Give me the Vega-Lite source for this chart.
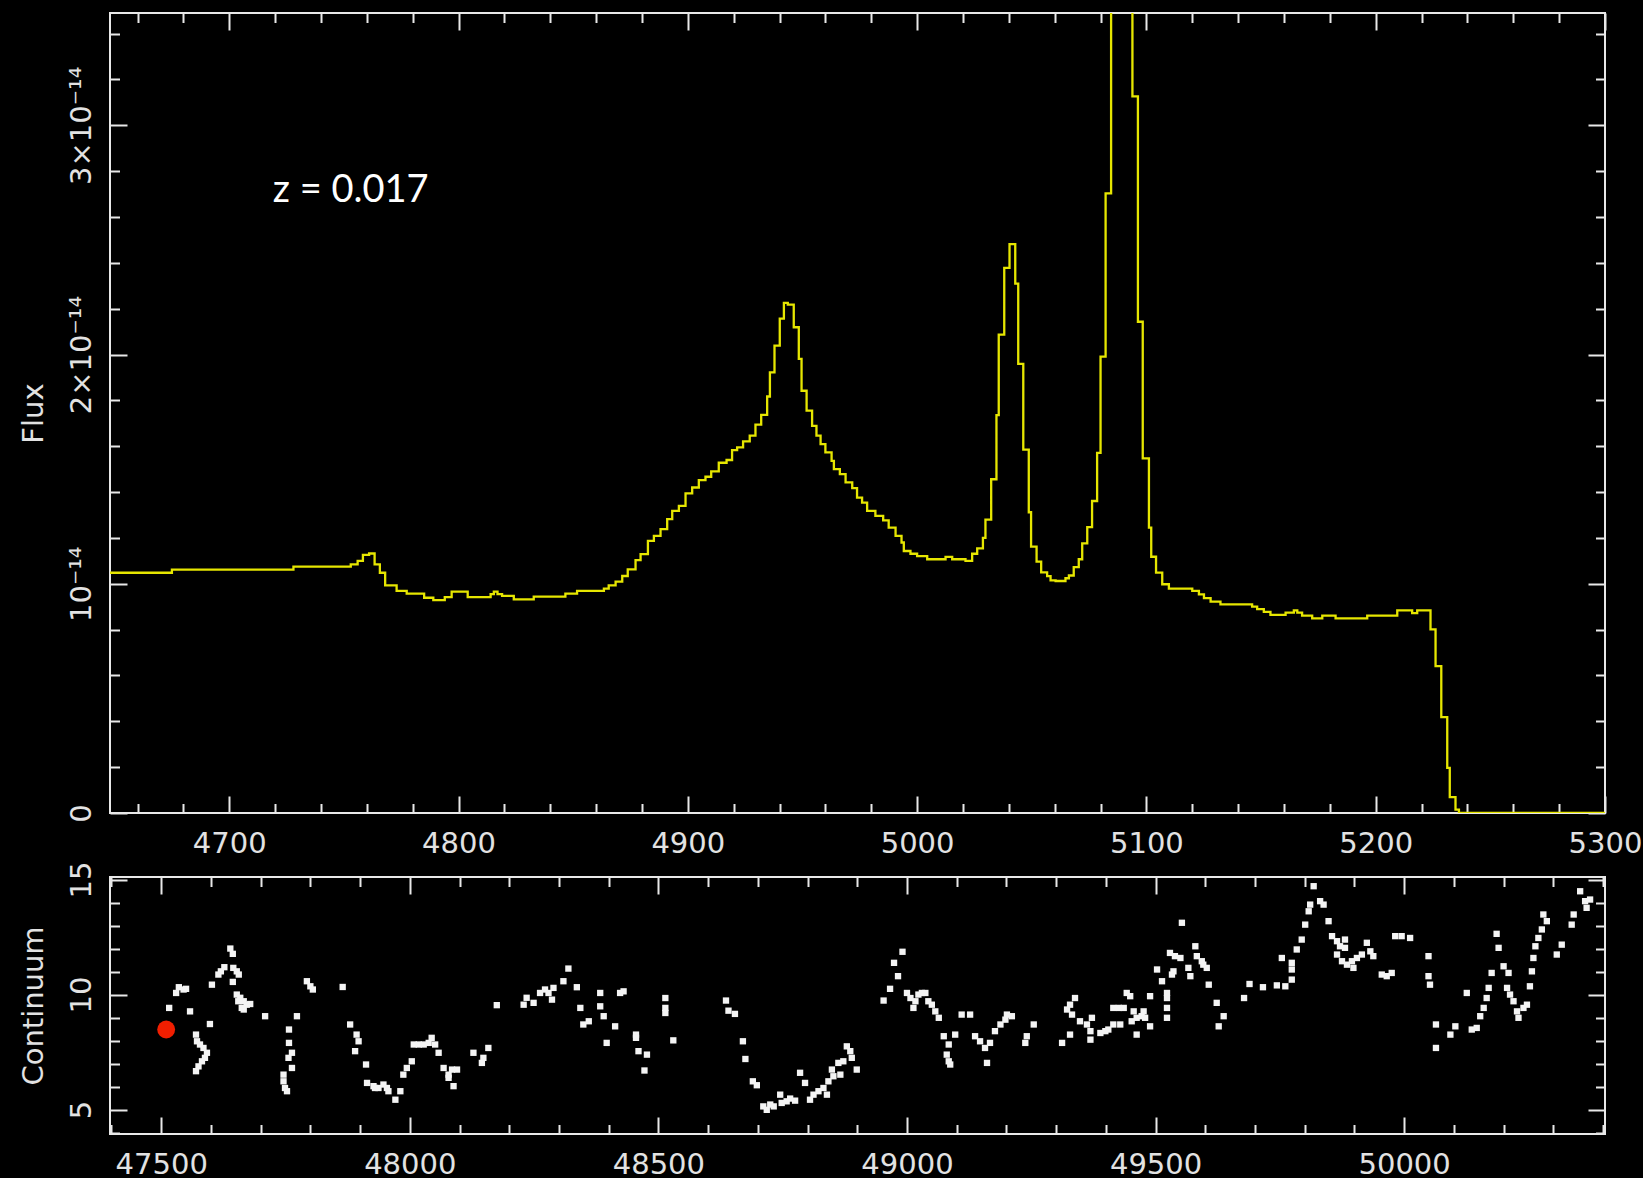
{
  "$schema": "https://vega.github.io/schema/vega-lite/v6.json",
  "background": "black",
  "autosize": {"type": "pad"},
  "padding": {"left": 18, "top": 11, "right": 0, "bottom": 0},
  "spacing": 64,
  "bounds": "flush",
  "datasets": {
    "spectrum": [
      {"wl": 4648, "flux": 1.048e-14}, {"wl": 4675, "flux": 1.062e-14}, {"wl": 4728, "flux": 1.075e-14},
      {"wl": 4753, "flux": 1.085e-14}, {"wl": 4756, "flux": 1.100e-14}, {"wl": 4758.3, "flux": 1.126e-14},
      {"wl": 4761, "flux": 1.132e-14}, {"wl": 4763.4, "flux": 1.085e-14}, {"wl": 4765.7, "flux": 1.048e-14},
      {"wl": 4768, "flux": 0.993e-14}, {"wl": 4773, "flux": 0.969e-14}, {"wl": 4777.4, "flux": 0.957e-14},
      {"wl": 4785, "flux": 0.939e-14}, {"wl": 4789, "flux": 0.929e-14}, {"wl": 4794, "flux": 0.942e-14},
      {"wl": 4797, "flux": 0.966e-14}, {"wl": 4804, "flux": 0.942e-14}, {"wl": 4814, "flux": 0.955e-14},
      {"wl": 4815.4, "flux": 0.966e-14}, {"wl": 4817, "flux": 0.955e-14}, {"wl": 4819, "flux": 0.947e-14},
      {"wl": 4824.1, "flux": 0.932e-14}, {"wl": 4832.8, "flux": 0.944e-14}, {"wl": 4846.6, "flux": 0.957e-14},
      {"wl": 4851.7, "flux": 0.969e-14}, {"wl": 4863.4, "flux": 0.979e-14}, {"wl": 4865.5, "flux": 0.993e-14},
      {"wl": 4868.5, "flux": 1.009e-14}, {"wl": 4871.4, "flux": 1.034e-14}, {"wl": 4873.8, "flux": 1.063e-14},
      {"wl": 4877.2, "flux": 1.103e-14}, {"wl": 4879.4, "flux": 1.129e-14}, {"wl": 4882.6, "flux": 1.187e-14},
      {"wl": 4885.2, "flux": 1.209e-14}, {"wl": 4888.1, "flux": 1.238e-14}, {"wl": 4891.0, "flux": 1.282e-14},
      {"wl": 4893.2, "flux": 1.318e-14}, {"wl": 4896.1, "flux": 1.340e-14}, {"wl": 4899.0, "flux": 1.394e-14},
      {"wl": 4901.9, "flux": 1.420e-14}, {"wl": 4904.8, "flux": 1.452e-14}, {"wl": 4907.7, "flux": 1.467e-14},
      {"wl": 4910.2, "flux": 1.490e-14}, {"wl": 4913.5, "flux": 1.528e-14}, {"wl": 4916.9, "flux": 1.540e-14},
      {"wl": 4919.3, "flux": 1.583e-14}, {"wl": 4921.5, "flux": 1.595e-14}, {"wl": 4924.1, "flux": 1.621e-14},
      {"wl": 4927.0, "flux": 1.646e-14}, {"wl": 4929.5, "flux": 1.694e-14}, {"wl": 4932.0, "flux": 1.737e-14},
      {"wl": 4934.6, "flux": 1.817e-14}, {"wl": 4935.8, "flux": 1.922e-14}, {"wl": 4937.8, "flux": 2.039e-14},
      {"wl": 4940.1, "flux": 2.157e-14}, {"wl": 4941.9, "flux": 2.225e-14}, {"wl": 4943.6, "flux": 2.218e-14},
      {"wl": 4946.2, "flux": 2.119e-14}, {"wl": 4948.4, "flux": 1.981e-14}, {"wl": 4949.6, "flux": 1.842e-14},
      {"wl": 4951.8, "flux": 1.755e-14}, {"wl": 4954.2, "flux": 1.689e-14}, {"wl": 4956.1, "flux": 1.646e-14},
      {"wl": 4957.9, "flux": 1.609e-14}, {"wl": 4960.0, "flux": 1.573e-14}, {"wl": 4962.7, "flux": 1.536e-14},
      {"wl": 4963.7, "flux": 1.500e-14}, {"wl": 4966.3, "flux": 1.478e-14}, {"wl": 4968.8, "flux": 1.442e-14},
      {"wl": 4971.7, "flux": 1.417e-14}, {"wl": 4973.8, "flux": 1.376e-14}, {"wl": 4976.0, "flux": 1.354e-14},
      {"wl": 4978.2, "flux": 1.318e-14}, {"wl": 4981.8, "flux": 1.296e-14}, {"wl": 4985.2, "flux": 1.277e-14},
      {"wl": 4987.6, "flux": 1.245e-14}, {"wl": 4990.6, "flux": 1.209e-14}, {"wl": 4993.2, "flux": 1.180e-14},
      {"wl": 4994.2, "flux": 1.143e-14}, {"wl": 4997.1, "flux": 1.131e-14}, {"wl": 5000.0, "flux": 1.121e-14},
      {"wl": 5004.4, "flux": 1.107e-14}, {"wl": 5012.4, "flux": 1.117e-14}, {"wl": 5015.3, "flux": 1.107e-14},
      {"wl": 5021.1, "flux": 1.100e-14}, {"wl": 5024.0, "flux": 1.131e-14}, {"wl": 5026.2, "flux": 1.154e-14},
      {"wl": 5028.7, "flux": 1.200e-14}, {"wl": 5029.8, "flux": 1.280e-14}, {"wl": 5032.3, "flux": 1.456e-14},
      {"wl": 5034.6, "flux": 1.736e-14}, {"wl": 5035.6, "flux": 2.087e-14}, {"wl": 5038.0, "flux": 2.378e-14},
      {"wl": 5040.3, "flux": 2.482e-14}, {"wl": 5042.8, "flux": 2.309e-14}, {"wl": 5044.1, "flux": 1.959e-14},
      {"wl": 5046.3, "flux": 1.585e-14}, {"wl": 5048.7, "flux": 1.312e-14}, {"wl": 5049.7, "flux": 1.162e-14},
      {"wl": 5052.1, "flux": 1.097e-14}, {"wl": 5054.1, "flux": 1.050e-14}, {"wl": 5056.7, "flux": 1.033e-14},
      {"wl": 5058.2, "flux": 1.015e-14}, {"wl": 5060.4, "flux": 1.012e-14}, {"wl": 5064.7, "flux": 1.024e-14},
      {"wl": 5066.2, "flux": 1.036e-14}, {"wl": 5068.3, "flux": 1.073e-14}, {"wl": 5070.5, "flux": 1.107e-14},
      {"wl": 5072.0, "flux": 1.176e-14}, {"wl": 5074.2, "flux": 1.247e-14}, {"wl": 5076.3, "flux": 1.361e-14},
      {"wl": 5078.5, "flux": 1.571e-14}, {"wl": 5080.0, "flux": 1.991e-14}, {"wl": 5082.2, "flux": 2.703e-14},
      {"wl": 5084.6, "flux": 4.5e-14}, {"wl": 5087.7, "flux": 6.0e-14}, {"wl": 5090.8, "flux": 5.0e-14},
      {"wl": 5093.9, "flux": 3.126e-14}, {"wl": 5096.3, "flux": 2.143e-14}, {"wl": 5098.4, "flux": 1.547e-14},
      {"wl": 5101.1, "flux": 1.245e-14}, {"wl": 5102.1, "flux": 1.118e-14}, {"wl": 5104.2, "flux": 1.049e-14},
      {"wl": 5106.9, "flux": 0.998e-14}, {"wl": 5109.8, "flux": 0.979e-14}, {"wl": 5120.0, "flux": 0.969e-14},
      {"wl": 5122.9, "flux": 0.954e-14}, {"wl": 5125.1, "flux": 0.937e-14}, {"wl": 5128.0, "flux": 0.922e-14},
      {"wl": 5132.3, "flux": 0.910e-14}, {"wl": 5146.1, "flux": 0.900e-14}, {"wl": 5148.3, "flux": 0.889e-14},
      {"wl": 5151.2, "flux": 0.877e-14}, {"wl": 5154.1, "flux": 0.864e-14}, {"wl": 5160.7, "flux": 0.874e-14},
      {"wl": 5164.3, "flux": 0.884e-14}, {"wl": 5165.8, "flux": 0.874e-14}, {"wl": 5167.9, "flux": 0.861e-14},
      {"wl": 5172.3, "flux": 0.849e-14}, {"wl": 5176.7, "flux": 0.861e-14}, {"wl": 5182.5, "flux": 0.849e-14},
      {"wl": 5196.3, "flux": 0.861e-14}, {"wl": 5209.4, "flux": 0.884e-14}, {"wl": 5215.9, "flux": 0.872e-14},
      {"wl": 5218.1, "flux": 0.884e-14}, {"wl": 5223.9, "flux": 0.801e-14}, {"wl": 5226.1, "flux": 0.641e-14},
      {"wl": 5228.6, "flux": 0.418e-14}, {"wl": 5231.2, "flux": 0.197e-14}, {"wl": 5232.3, "flux": 0.069e-14},
      {"wl": 5234.8, "flux": 0.015e-14}, {"wl": 5236.3, "flux": 0}, {"wl": 5300, "flux": 0}
    ],
    "lc": [
      {"jd": 47516, "c": 9.42}, {"jd": 47530, "c": 10.07}, {"jd": 47535.5, "c": 10.32}, {"jd": 47545, "c": 10.22}, {"jd": 47550, "c": 10.25},
      {"jd": 47558, "c": 9.27}, {"jd": 47570, "c": 8.26}, {"jd": 47572, "c": 7.97}, {"jd": 47578, "c": 7.83}, {"jd": 47585, "c": 7.68},
      {"jd": 47592, "c": 7.47}, {"jd": 47588, "c": 7.25}, {"jd": 47582, "c": 7.1}, {"jd": 47575, "c": 6.88}, {"jd": 47570, "c": 6.67},
      {"jd": 47598, "c": 8.72}, {"jd": 47602, "c": 10.43}, {"jd": 47615, "c": 10.87}, {"jd": 47620, "c": 11.01}, {"jd": 47627, "c": 11.19},
      {"jd": 47639, "c": 12.0}, {"jd": 47644, "c": 11.77}, {"jd": 47645, "c": 11.16}, {"jd": 47652, "c": 11.01}, {"jd": 47656, "c": 10.87},
      {"jd": 47644, "c": 10.55}, {"jd": 47652, "c": 10.0}, {"jd": 47659, "c": 9.86}, {"jd": 47666, "c": 9.71}, {"jd": 47662, "c": 9.42},
      {"jd": 47672, "c": 9.56}, {"jd": 47679, "c": 9.59}, {"jd": 47655, "c": 9.71}, {"jd": 47666, "c": 9.35}, {"jd": 47709, "c": 9.06},
      {"jd": 47773, "c": 9.06}, {"jd": 47757, "c": 8.48}, {"jd": 47757, "c": 7.9}, {"jd": 47763, "c": 7.47}, {"jd": 47756, "c": 7.25},
      {"jd": 47763, "c": 6.81}, {"jd": 47746, "c": 6.52}, {"jd": 47746, "c": 6.23}, {"jd": 47749, "c": 5.94}, {"jd": 47753, "c": 5.8},
      {"jd": 47793, "c": 10.58}, {"jd": 47800, "c": 10.36}, {"jd": 47805, "c": 10.22}, {"jd": 47865, "c": 10.33}, {"jd": 47880, "c": 8.7},
      {"jd": 47893, "c": 8.26}, {"jd": 47897, "c": 7.97}, {"jd": 47890, "c": 7.54}, {"jd": 47912, "c": 6.96}, {"jd": 47914, "c": 6.16},
      {"jd": 47927, "c": 6.02}, {"jd": 47937, "c": 5.94}, {"jd": 47947, "c": 6.09}, {"jd": 47954, "c": 5.94}, {"jd": 47957, "c": 5.8},
      {"jd": 47930, "c": 5.94}, {"jd": 47971, "c": 5.43}, {"jd": 47981, "c": 5.8}, {"jd": 47987, "c": 6.52}, {"jd": 47994, "c": 6.81},
      {"jd": 48004, "c": 7.1}, {"jd": 48008, "c": 7.83}, {"jd": 48018, "c": 7.83}, {"jd": 48028, "c": 7.83}, {"jd": 48038, "c": 7.9},
      {"jd": 48044, "c": 8.12}, {"jd": 48051, "c": 7.83}, {"jd": 48058, "c": 7.47}, {"jd": 48068, "c": 6.81}, {"jd": 48078, "c": 6.52},
      {"jd": 48085, "c": 6.74}, {"jd": 48095, "c": 6.74}, {"jd": 48088, "c": 6.02}, {"jd": 48078, "c": 6.38}, {"jd": 48128, "c": 7.47},
      {"jd": 48145, "c": 7.03}, {"jd": 48148, "c": 7.25}, {"jd": 48158, "c": 7.68}, {"jd": 48175, "c": 9.54}, {"jd": 48229, "c": 9.56},
      {"jd": 48235, "c": 9.86}, {"jd": 48249, "c": 9.64}, {"jd": 48262, "c": 10.07}, {"jd": 48272, "c": 10.22}, {"jd": 48279, "c": 10.07},
      {"jd": 48289, "c": 10.29}, {"jd": 48286, "c": 9.78}, {"jd": 48309, "c": 10.58}, {"jd": 48319, "c": 11.13}, {"jd": 48336, "c": 10.32},
      {"jd": 48343, "c": 9.42}, {"jd": 48349, "c": 8.7}, {"jd": 48360, "c": 8.84}, {"jd": 48383, "c": 10.07}, {"jd": 48383, "c": 9.49},
      {"jd": 48390, "c": 9.06}, {"jd": 48396, "c": 7.9}, {"jd": 48413, "c": 8.62}, {"jd": 48423, "c": 10.07}, {"jd": 48430, "c": 10.14},
      {"jd": 48455, "c": 8.26}, {"jd": 48455, "c": 8.12}, {"jd": 48460, "c": 7.54}, {"jd": 48477, "c": 7.39}, {"jd": 48472, "c": 6.7},
      {"jd": 48514, "c": 9.85}, {"jd": 48514, "c": 9.42}, {"jd": 48514, "c": 9.2}, {"jd": 48530, "c": 8.01}, {"jd": 48636, "c": 9.74},
      {"jd": 48641, "c": 9.3}, {"jd": 48654, "c": 9.16}, {"jd": 48670, "c": 7.97}, {"jd": 48675, "c": 7.2}, {"jd": 48690, "c": 6.23},
      {"jd": 48698, "c": 6.06}, {"jd": 48711, "c": 5.14}, {"jd": 48718, "c": 4.99}, {"jd": 48725, "c": 5.22}, {"jd": 48732, "c": 5.14},
      {"jd": 48745, "c": 5.65}, {"jd": 48748, "c": 5.29}, {"jd": 48758, "c": 5.36}, {"jd": 48765, "c": 5.48}, {"jd": 48775, "c": 5.39},
      {"jd": 48785, "c": 6.6}, {"jd": 48795, "c": 6.16}, {"jd": 48805, "c": 5.43}, {"jd": 48812, "c": 5.65}, {"jd": 48822, "c": 5.8},
      {"jd": 48832, "c": 5.94}, {"jd": 48839, "c": 5.65}, {"jd": 48842, "c": 6.23}, {"jd": 48852, "c": 6.45}, {"jd": 48849, "c": 6.74},
      {"jd": 48862, "c": 7.03}, {"jd": 48866, "c": 6.52}, {"jd": 48872, "c": 7.1}, {"jd": 48879, "c": 7.75}, {"jd": 48886, "c": 7.54},
      {"jd": 48889, "c": 7.25}, {"jd": 48899, "c": 6.74}, {"jd": 48953, "c": 9.74}, {"jd": 48966, "c": 10.25}, {"jd": 48974, "c": 11.38},
      {"jd": 48982, "c": 10.8}, {"jd": 48991, "c": 11.86}, {"jd": 49000, "c": 10.07}, {"jd": 49007, "c": 9.85}, {"jd": 49017, "c": 9.71},
      {"jd": 49013, "c": 9.42}, {"jd": 49023, "c": 10.0}, {"jd": 49030, "c": 10.07}, {"jd": 49037, "c": 10.07}, {"jd": 49043, "c": 9.71},
      {"jd": 49050, "c": 9.56}, {"jd": 49057, "c": 9.27}, {"jd": 49064, "c": 8.99}, {"jd": 49074, "c": 8.19}, {"jd": 49084, "c": 7.83},
      {"jd": 49080, "c": 7.39}, {"jd": 49084, "c": 7.1}, {"jd": 49087, "c": 6.96}, {"jd": 49097, "c": 8.26}, {"jd": 49110, "c": 9.13},
      {"jd": 49127, "c": 9.13}, {"jd": 49137, "c": 8.19}, {"jd": 49147, "c": 7.97}, {"jd": 49157, "c": 7.68}, {"jd": 49161, "c": 7.03},
      {"jd": 49167, "c": 7.9}, {"jd": 49177, "c": 8.41}, {"jd": 49188, "c": 8.7}, {"jd": 49198, "c": 8.91}, {"jd": 49211, "c": 9.06},
      {"jd": 49201, "c": 9.13}, {"jd": 49241, "c": 8.19}, {"jd": 49238, "c": 7.9}, {"jd": 49255, "c": 8.7}, {"jd": 49312, "c": 7.9},
      {"jd": 49328, "c": 8.26}, {"jd": 49322, "c": 9.35}, {"jd": 49328, "c": 9.56}, {"jd": 49338, "c": 9.85}, {"jd": 49332, "c": 9.13},
      {"jd": 49348, "c": 8.84}, {"jd": 49362, "c": 8.7}, {"jd": 49369, "c": 8.41}, {"jd": 49372, "c": 8.99}, {"jd": 49369, "c": 8.04},
      {"jd": 49389, "c": 8.33}, {"jd": 49399, "c": 8.41}, {"jd": 49405, "c": 8.48}, {"jd": 49415, "c": 8.7}, {"jd": 49429, "c": 8.7},
      {"jd": 49415, "c": 9.42}, {"jd": 49426, "c": 9.42}, {"jd": 49436, "c": 9.42}, {"jd": 49442, "c": 10.07}, {"jd": 49449, "c": 9.93},
      {"jd": 49456, "c": 9.27}, {"jd": 49452, "c": 8.84}, {"jd": 49462, "c": 8.26}, {"jd": 49462, "c": 8.99}, {"jd": 49472, "c": 9.06},
      {"jd": 49479, "c": 8.99}, {"jd": 49489, "c": 8.62}, {"jd": 49489, "c": 9.93}, {"jd": 49476, "c": 9.27}, {"jd": 49503, "c": 11.09},
      {"jd": 49513, "c": 10.58}, {"jd": 49523, "c": 10.07}, {"jd": 49523, "c": 9.85}, {"jd": 49523, "c": 9.42}, {"jd": 49523, "c": 8.99},
      {"jd": 49529, "c": 11.81}, {"jd": 49539, "c": 11.67}, {"jd": 49550, "c": 11.59}, {"jd": 49536, "c": 11.01}, {"jd": 49533, "c": 10.87},
      {"jd": 49553, "c": 13.12}, {"jd": 49566, "c": 11.16}, {"jd": 49570, "c": 10.8}, {"jd": 49580, "c": 12.1}, {"jd": 49583, "c": 11.67},
      {"jd": 49593, "c": 11.45}, {"jd": 49603, "c": 11.16}, {"jd": 49607, "c": 10.43}, {"jd": 49596, "c": 11.3}, {"jd": 49623, "c": 9.64},
      {"jd": 49637, "c": 9.06}, {"jd": 49627, "c": 8.62}, {"jd": 49678, "c": 9.85}, {"jd": 49689, "c": 10.46}, {"jd": 49716, "c": 10.32},
      {"jd": 49744, "c": 10.4}, {"jd": 49761, "c": 10.36}, {"jd": 49774, "c": 10.65}, {"jd": 49754, "c": 11.59}, {"jd": 49774, "c": 11.38},
      {"jd": 49774, "c": 11.09}, {"jd": 49784, "c": 11.96}, {"jd": 49794, "c": 12.39}, {"jd": 49801, "c": 13.04}, {"jd": 49808, "c": 13.62},
      {"jd": 49811, "c": 13.91}, {"jd": 49818, "c": 14.71}, {"jd": 49831, "c": 14.06}, {"jd": 49838, "c": 13.91}, {"jd": 49848, "c": 13.19},
      {"jd": 49855, "c": 12.54}, {"jd": 49865, "c": 12.32}, {"jd": 49871, "c": 12.1}, {"jd": 49881, "c": 12.39}, {"jd": 49865, "c": 11.74},
      {"jd": 49875, "c": 11.45}, {"jd": 49885, "c": 11.3}, {"jd": 49895, "c": 11.45}, {"jd": 49905, "c": 11.59}, {"jd": 49915, "c": 11.74},
      {"jd": 49925, "c": 12.25}, {"jd": 49932, "c": 11.88}, {"jd": 49938, "c": 11.67}, {"jd": 49898, "c": 11.16}, {"jd": 49881, "c": 12.03},
      {"jd": 49955, "c": 10.87}, {"jd": 49965, "c": 10.8}, {"jd": 49975, "c": 10.94}, {"jd": 49982, "c": 12.54}, {"jd": 49995, "c": 12.54},
      {"jd": 50012, "c": 12.46}, {"jd": 50049, "c": 11.67}, {"jd": 50049, "c": 10.8}, {"jd": 50052, "c": 10.43}, {"jd": 50064, "c": 8.7},
      {"jd": 50064, "c": 7.68}, {"jd": 50093, "c": 8.26}, {"jd": 50103, "c": 8.62}, {"jd": 50126, "c": 10.07}, {"jd": 50136, "c": 8.48},
      {"jd": 50146, "c": 8.55}, {"jd": 50153, "c": 9.06}, {"jd": 50160, "c": 9.42}, {"jd": 50166, "c": 9.85}, {"jd": 50170, "c": 10.29},
      {"jd": 50176, "c": 10.94}, {"jd": 50190, "c": 12.03}, {"jd": 50186, "c": 12.64}, {"jd": 50200, "c": 11.23}, {"jd": 50210, "c": 10.94},
      {"jd": 50207, "c": 10.29}, {"jd": 50213, "c": 10.0}, {"jd": 50220, "c": 9.71}, {"jd": 50227, "c": 9.27}, {"jd": 50230, "c": 8.99},
      {"jd": 50240, "c": 9.42}, {"jd": 50247, "c": 9.56}, {"jd": 50253, "c": 10.36}, {"jd": 50257, "c": 11.01}, {"jd": 50260, "c": 11.59},
      {"jd": 50264, "c": 12.1}, {"jd": 50270, "c": 12.46}, {"jd": 50277, "c": 12.83}, {"jd": 50280, "c": 13.48}, {"jd": 50287, "c": 13.19},
      {"jd": 50307, "c": 11.74}, {"jd": 50317, "c": 12.17}, {"jd": 50337, "c": 13.04}, {"jd": 50341, "c": 13.48}, {"jd": 50354, "c": 14.49},
      {"jd": 50364, "c": 14.06}, {"jd": 50374, "c": 14.13}, {"jd": 50367, "c": 13.77}
    ],
    "current": [{"jd": 47510, "c": 8.48}]
  },
  "vconcat": [
    {
      "width": 1495,
      "height": 800,
      "layer": [
        {
          "data": {"name": "spectrum"},
          "mark": {"type": "line", "interpolate": "step-after", "color": "#e6e600", "strokeWidth": 2.3, "clip": true},
          "encoding": {
            "x": {"field": "wl", "type": "quantitative", "scale": {"domain": [4648, 5300], "nice": false, "zero": false},
              "axis": {"orient": "bottom", "values": [4700, 4800, 4900, 5000, 5100, 5200, 5300], "format": "d", "tickSize": -17, "labelPadding": 33, "title": null}},
            "y": {"field": "flux", "type": "quantitative", "scale": {"domain": [0, 3.49e-14], "nice": false, "zero": false},
              "axis": {"orient": "left", "values": [0, 1e-14, 2e-14, 3e-14], "tickSize": -17, "labelPadding": 31,
                "labelExpr": "datum.value == 0 ? '0' : (round(datum.value*1e14) == 1 ? '10⁻¹⁴' : round(datum.value*1e14) + '×10⁻¹⁴')",
                "labelAngle": 270, "labelAlign": "center", "labelBaseline": "bottom",
                "title": "Flux", "titleX": -68, "titleY": 400, "titleAngle": 270, "titleAlign": "center", "titleBaseline": "alphabetic"}}
          }
        },
        {
          "data": {"name": "spectrum"},
          "transform": [{"filter": "datum.flux < 3e-14"}],
          "mark": {"type": "point", "opacity": 0, "clip": true},
          "encoding": {
            "x": {"field": "wl", "type": "quantitative",
              "axis": {"orient": "bottom", "values": [4660, 4680, 4720, 4740, 4760, 4780, 4820, 4840, 4860, 4880, 4920, 4940, 4960, 4980, 5020, 5040, 5060, 5080, 5120, 5140, 5160, 5180, 5220, 5240, 5260, 5280], "tickSize": -9.5, "labels": false, "title": null}},
            "y": {"field": "flux", "type": "quantitative",
              "axis": {"orient": "left", "values": [2e-15, 4e-15, 6e-15, 8e-15, 1.2e-14, 1.4e-14, 1.6e-14, 1.8e-14, 2.2e-14, 2.4e-14, 2.6e-14, 2.8e-14, 3.2e-14, 3.4e-14], "tickSize": -9.5, "labels": false, "title": null}}
          }
        },
        {
          "data": {"name": "spectrum"},
          "transform": [{"filter": "datum.flux < 3e-14"}],
          "mark": {"type": "point", "opacity": 0, "clip": true},
          "encoding": {
            "x": {"field": "wl", "type": "quantitative",
              "axis": {"orient": "top", "values": [4700, 4800, 4900, 5000, 5100, 5200, 5300], "tickSize": -17, "labels": false, "title": null}},
            "y": {"field": "flux", "type": "quantitative",
              "axis": {"orient": "right", "values": [0, 1e-14, 2e-14, 3e-14], "tickSize": -17, "labels": false, "title": null}}
          }
        },
        {
          "data": {"name": "spectrum"},
          "transform": [{"filter": "datum.flux < 3e-14"}],
          "mark": {"type": "point", "opacity": 0, "clip": true},
          "encoding": {
            "x": {"field": "wl", "type": "quantitative",
              "axis": {"orient": "top", "values": [4660, 4680, 4720, 4740, 4760, 4780, 4820, 4840, 4860, 4880, 4920, 4940, 4960, 4980, 5020, 5040, 5060, 5080, 5120, 5140, 5160, 5180, 5220, 5240, 5260, 5280], "tickSize": -9.5, "labels": false, "title": null}},
            "y": {"field": "flux", "type": "quantitative",
              "axis": {"orient": "right", "values": [2e-15, 4e-15, 6e-15, 8e-15, 1.2e-14, 1.4e-14, 1.6e-14, 1.8e-14, 2.2e-14, 2.4e-14, 2.6e-14, 2.8e-14, 3.2e-14, 3.4e-14], "tickSize": -9.5, "labels": false, "title": null}}
          }
        },
        {
          "data": {"values": [{}]},
          "mark": {"type": "text", "text": "z = 0.017", "font": "Lato", "fontSize": 38, "color": "white", "align": "left", "baseline": "alphabetic"},
          "encoding": {
            "x": {"datum": 4719, "type": "quantitative", "axis": null},
            "y": {"datum": 2.664e-14, "type": "quantitative", "axis": null}
          }
        }
      ],
      "resolve": {"axis": {"x": "independent", "y": "independent"}}
    },
    {
      "width": 1495,
      "height": 257,
      "layer": [
        {
          "data": {"name": "lc"},
          "mark": {"type": "point", "shape": "square", "filled": true, "color": "#f4f4f4", "opacity": 1, "size": 40},
          "encoding": {
            "x": {"field": "jd", "type": "quantitative", "scale": {"domain": [47397, 50404], "nice": false, "zero": false},
              "axis": {"orient": "bottom", "values": [47500, 48000, 48500, 49000, 49500, 50000], "format": "d", "tickSize": -17, "labelPadding": 33, "title": null}},
            "y": {"field": "c", "type": "quantitative", "scale": {"domain": [3.94, 15.11], "nice": false, "zero": false},
              "axis": {"orient": "left", "values": [5, 10, 15], "tickSize": -17, "labelPadding": 31,
                "labelAngle": 270, "labelAlign": "center", "labelBaseline": "bottom",
                "title": "Continuum", "titleX": -68, "titleY": 128.5, "titleAngle": 270, "titleAlign": "center", "titleBaseline": "alphabetic"}}
          }
        },
        {
          "data": {"name": "lc"},
          "mark": {"type": "point", "opacity": 0, "clip": true},
          "encoding": {
            "x": {"field": "jd", "type": "quantitative",
              "axis": {"orient": "bottom", "values": [47400, 47600, 47700, 47800, 47900, 48100, 48200, 48300, 48400, 48600, 48700, 48800, 48900, 49100, 49200, 49300, 49400, 49600, 49700, 49800, 49900, 50100, 50200, 50300, 50400], "tickSize": -9.5, "labels": false, "title": null}},
            "y": {"field": "c", "type": "quantitative",
              "axis": {"orient": "left", "values": [4, 6, 7, 8, 9, 11, 12, 13, 14], "tickSize": -9.5, "labels": false, "title": null}}
          }
        },
        {
          "data": {"name": "lc"},
          "mark": {"type": "point", "opacity": 0, "clip": true},
          "encoding": {
            "x": {"field": "jd", "type": "quantitative",
              "axis": {"orient": "top", "values": [47500, 48000, 48500, 49000, 49500, 50000], "tickSize": -17, "labels": false, "title": null}},
            "y": {"field": "c", "type": "quantitative",
              "axis": {"orient": "right", "values": [5, 10, 15], "tickSize": -17, "labels": false, "title": null}}
          }
        },
        {
          "data": {"name": "lc"},
          "mark": {"type": "point", "opacity": 0, "clip": true},
          "encoding": {
            "x": {"field": "jd", "type": "quantitative",
              "axis": {"orient": "top", "values": [47400, 47600, 47700, 47800, 47900, 48100, 48200, 48300, 48400, 48600, 48700, 48800, 48900, 49100, 49200, 49300, 49400, 49600, 49700, 49800, 49900, 50100, 50200, 50300, 50400], "tickSize": -9.5, "labels": false, "title": null}},
            "y": {"field": "c", "type": "quantitative",
              "axis": {"orient": "right", "values": [4, 6, 7, 8, 9, 11, 12, 13, 14], "tickSize": -9.5, "labels": false, "title": null}}
          }
        },
        {
          "data": {"name": "current"},
          "mark": {"type": "point", "shape": "circle", "filled": true, "color": "#f01e00", "opacity": 1, "size": 320},
          "encoding": {
            "x": {"field": "jd", "type": "quantitative", "axis": null},
            "y": {"field": "c", "type": "quantitative", "axis": null}
          }
        }
      ],
      "resolve": {"axis": {"x": "independent", "y": "independent"}}
    }
  ],
  "config": {
    "background": "black",
    "view": {"stroke": "#e8e8e8", "strokeWidth": 2},
    "axis": {
      "domain": false, "grid": false, "tickColor": "#e8e8e8", "tickWidth": 2,
      "labelColor": "#e2e2e2", "labelFont": "DejaVu Sans", "labelFontSize": 29,
      "titleColor": "#e2e2e2", "titleFont": "DejaVu Sans", "titleFontSize": 29, "titleFontWeight": "normal",
      "labelFlush": false, "labelOverlap": false, "labelBound": false
    }
  }
}
